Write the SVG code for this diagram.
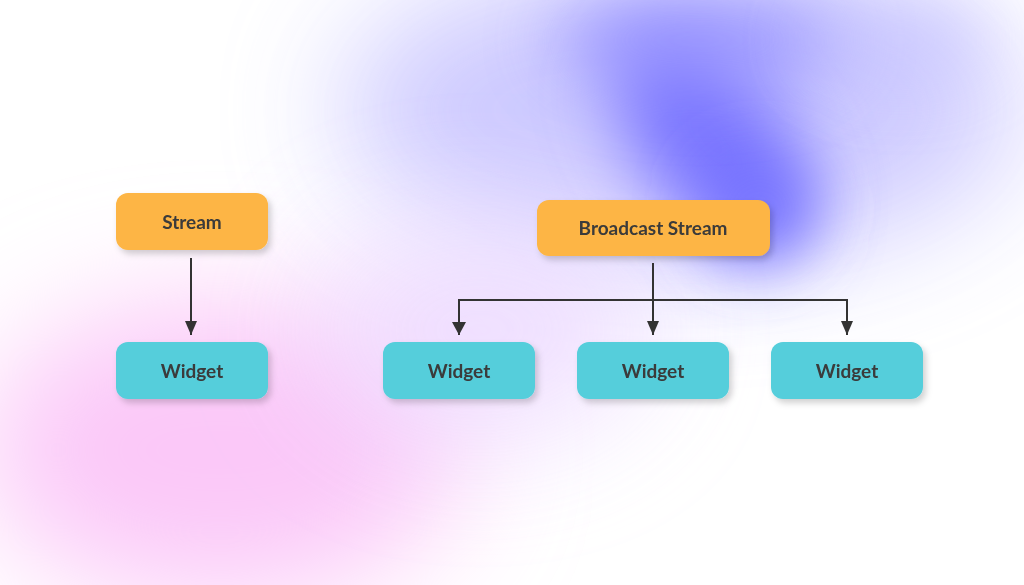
<svg xmlns="http://www.w3.org/2000/svg" width="1024" height="585" viewBox="0 0 1024 585">
<defs>
<filter id="blur1" filterUnits="userSpaceOnUse" x="-300" y="-300" width="1624" height="1185"><feGaussianBlur stdDeviation="60"/></filter>
<filter id="blur2" filterUnits="userSpaceOnUse" x="-300" y="-300" width="1624" height="1185"><feGaussianBlur stdDeviation="35"/></filter>
<filter id="shadow" x="-20%" y="-30%" width="150%" height="170%"><feDropShadow dx="3" dy="4" stdDeviation="3" flood-color="#000" flood-opacity="0.18"/></filter>
<marker id="arrow" viewBox="0 0 14 12" refX="14" refY="6" markerWidth="14" markerHeight="12" markerUnits="userSpaceOnUse" orient="auto"><path d="M0,0 L14,6 L0,12 z" fill="#333"/></marker>
<style>
.orange{fill:#fdb544;}
.teal{fill:#55cedb;}
.label{font-family:"Lato","Noto Sans",sans-serif;font-weight:700;font-size:19px;fill:#3a3a3a;text-anchor:middle;dominant-baseline:central;}
.conn{stroke:#333;stroke-width:2;fill:none;}
</style>
</defs>
<rect width="1024" height="585" fill="#ffffff"/>
<g id="background">
<ellipse cx="680" cy="110" rx="340" ry="150" fill="#c8c4ff" filter="url(#blur1)" opacity="0.9"/>
<ellipse cx="220" cy="450" rx="240" ry="150" fill="#fbc8f8" filter="url(#blur1)"/>
<ellipse cx="480" cy="330" rx="170" ry="110" fill="#ecd8ff" filter="url(#blur1)" opacity="0.8"/>
<ellipse cx="710" cy="140" rx="120" ry="70" fill="#7a76ff" filter="url(#blur2)" transform="rotate(50 710 140)"/>
<ellipse cx="760" cy="210" rx="50" ry="45" fill="#6e6cff" filter="url(#blur2)"/>
<ellipse cx="700" cy="40" rx="150" ry="50" fill="#8e8aff" filter="url(#blur2)" opacity="0.7"/>
<ellipse cx="900" cy="40" rx="90" ry="40" fill="#c0beff" filter="url(#blur2)" opacity="0.6"/>
</g>
<g id="connectors">
<line class="conn" x1="191" y1="258" x2="191" y2="335" marker-end="url(#arrow)"/>
<line class="conn" x1="653" y1="263" x2="653" y2="335" marker-end="url(#arrow)"/>
<polyline class="conn" points="459,335 459,300 847,300 847,335" marker-end="url(#arrow)"/>
<path d="M452,322 L466,322 L459,335 z" fill="#333"/>
</g>
<g id="stream" filter="url(#shadow)">
<rect class="orange" x="116" y="193" width="152" height="57" rx="12"/>
<text class="label" x="192" y="221">Stream</text>
</g>
<g id="widget0" filter="url(#shadow)">
<rect class="teal" x="116" y="342" width="152" height="57" rx="12"/>
<text class="label" x="192" y="370">Widget</text>
</g>
<g id="broadcast" filter="url(#shadow)">
<rect class="orange" x="537" y="200" width="233" height="56" rx="12"/>
<text class="label" x="653" y="227">Broadcast Stream</text>
</g>
<g id="widget1" filter="url(#shadow)">
<rect class="teal" x="383" y="342" width="152" height="57" rx="12"/>
<text class="label" x="459" y="370">Widget</text>
</g>
<g id="widget2" filter="url(#shadow)">
<rect class="teal" x="577" y="342" width="152" height="57" rx="12"/>
<text class="label" x="653" y="370">Widget</text>
</g>
<g id="widget3" filter="url(#shadow)">
<rect class="teal" x="771" y="342" width="152" height="57" rx="12"/>
<text class="label" x="847" y="370">Widget</text>
</g>
</svg>
